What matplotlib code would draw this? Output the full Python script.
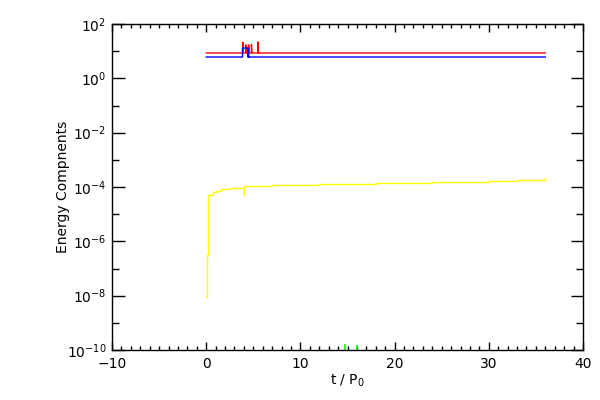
import matplotlib
matplotlib.use("Agg")
import matplotlib.pyplot as plt
from matplotlib.ticker import MultipleLocator, FixedLocator, NullFormatter

# ---- data ----
t_red = [0.0, 3.9, 3.9, 3.95, 4.2, 4.2, 4.25, 4.5, 4.5, 4.55, 4.8, 4.8, 4.85, 5.5, 5.5, 5.55, 36.0]
e_red = [8.6, 8.6, 21.0, 8.6, 8.6, 17.0, 8.6, 8.6, 17.0, 8.6, 8.6, 18.0, 8.6, 8.6, 22.0, 8.6, 8.6]

t_blue = [0.0, 3.85, 3.85, 4.5, 4.5, 4.42, 4.42, 4.5, 36.0]
e_blue = [6.1, 6.1, 13.0, 13.0, 6.1, 6.1, 13.0, 6.1, 6.1]

t_yel = [0.0, 0.05, 0.1, 0.1, 0.15, 0.2, 0.2, 0.7, 0.7, 1.05, 1.05, 1.6, 1.6, 2.5, 2.5, 3.6, 4.0,
         4.0, 4.05, 4.05, 4.4, 4.4, 5.2, 7.0, 9.0, 12.0, 15.0, 18.0, 21.0, 24.0, 27.0, 30.0, 33.0, 36.0]
e_yel = [9e-9, 9e-9, 3.2e-7, 3.2e-7, 2.8e-5, 2.8e-5, 5.1e-5, 5.1e-5, 6.6e-5, 6.6e-5, 7.0e-5, 7.0e-5,
         8.8e-5, 8.8e-5, 9.2e-5, 9.2e-5, 9.2e-5, 5.0e-5, 5.0e-5, 1.05e-4, 1.05e-4, 1.09e-4, 1.09e-4,
         1.15e-4, 1.19e-4, 1.24e-4, 1.29e-4, 1.35e-4, 1.41e-4, 1.47e-4, 1.54e-4, 1.65e-4, 1.85e-4, 2.1e-4]

t_green = [14.7, 16.0]
e_green = [1.65e-10, 1.55e-10]

x_min, x_max = -10, 40
y_min, y_max = 1e-10, 1e2
y_major_exp = list(range(-10, 3, 2))
y_minor_exp = list(range(-9, 2, 2))

fig = plt.figure(figsize=(6, 4), dpi=100)
ax = fig.add_axes([112/600, 1 - 350/400, (583 - 112)/600, (350 - 24)/400])

ax.plot(t_yel, e_yel, color="#ffff00", lw=1.0, drawstyle="steps-post")
ax.plot(t_red, e_red, color="#ff0000", lw=1.0)
ax.plot(t_blue, e_blue, color="#0000ff", lw=1.0)
ax.vlines(t_green, y_min, e_green, color="#00ff00", lw=1.2)

ax.set_yscale("log")
ax.set_xlim(x_min, x_max)
ax.set_ylim(y_min, y_max)

ax.xaxis.set_major_locator(MultipleLocator(10))
ax.xaxis.set_minor_locator(MultipleLocator(1))
ax.yaxis.set_major_locator(FixedLocator([10.0**k for k in y_major_exp]))
ax.yaxis.set_minor_locator(FixedLocator([10.0**k for k in y_minor_exp]))
ax.yaxis.set_minor_formatter(NullFormatter())
ax.set_yticklabels([r"10$^{%d}$" % k for k in y_major_exp])

ax.tick_params(which="both", direction="in", top=True, right=True, color="black", width=1,
               labelsize=10)
ax.tick_params(axis="x", which="major", length=6, pad=5)
ax.tick_params(axis="x", which="minor", length=3)
ax.tick_params(axis="y", which="major", length=9, pad=4)
ax.tick_params(axis="y", which="minor", length=5)

for s in ax.spines.values():
    s.set_linewidth(1)
    s.set_color("black")

ax.set_xlabel(r"t / P$_0$", fontsize=10, labelpad=1)
ax.set_ylabel("Energy Compnents", fontsize=10)
ax.yaxis.set_label_coords(-0.09, 0.5)

fig.savefig("out.png", dpi=100, facecolor="white")
